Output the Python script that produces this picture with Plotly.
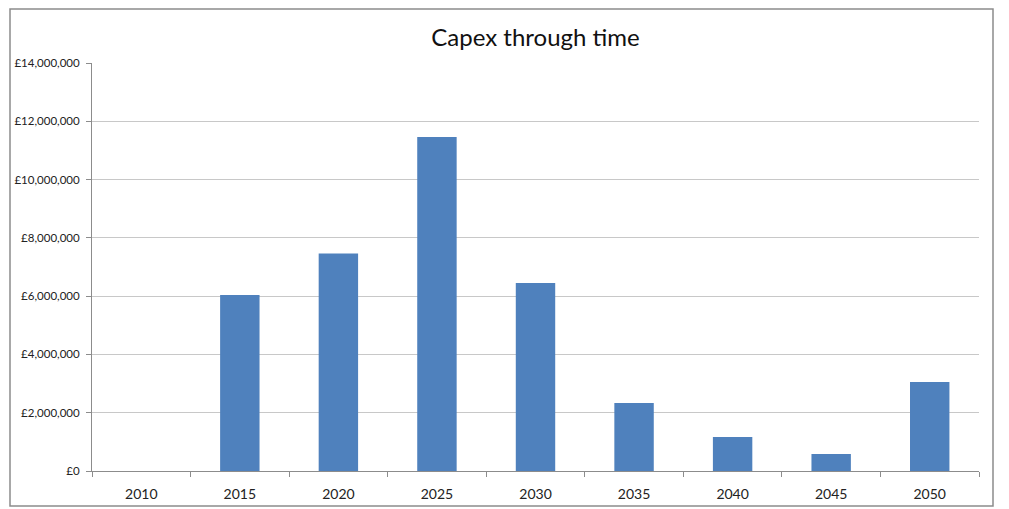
import plotly.graph_objects as go

years = ["2010", "2015", "2020", "2025", "2030", "2035", "2040", "2045", "2050"]
capex = [0, 6040000, 7460000, 11460000, 6450000, 2330000, 1170000, 580000, 3050000]
ytick_vals = [0, 2000000, 4000000, 6000000, 8000000, 10000000, 12000000, 14000000]
ytick_text = ["£0", "£2,000,000", "£4,000,000", "£6,000,000", "£8,000,000",
              "£10,000,000", "£12,000,000", "£14,000,000"]

fig = go.Figure(go.Bar(x=years, y=capex, marker=dict(color="#4F81BD", line=dict(width=0)),
                       width=0.4))

# page body offset of 8px is accounted for
OFF = 8
W, H = 1001, 501
L, R, T, B = 92 - OFF, 30, 63 - OFF, 38
pw, ph = W - L - R, H - T - B

fig.update_layout(
    width=W, height=H,
    margin=dict(l=L, r=R, t=T, b=B, autoexpand=False),
    plot_bgcolor="white", paper_bgcolor="white",
    font=dict(family="Lato, Open Sans, sans-serif", color="#222222", size=12),
    title=dict(text="Capex through time", xref="paper", x=0.5, xanchor="center",
               y=1 - (38 - OFF) / H, yanchor="middle",
               font=dict(size=24, color="#111111", family="Lato, Open Sans, sans-serif")),
    showlegend=False,
    xaxis=dict(type="category", showline=True, linecolor="#8c8c8c", linewidth=1,
               ticks="outside", ticklen=5, tickcolor="#8c8c8c", tickson="boundaries",
               showgrid=False, tickfont=dict(size=14), ticklabelstandoff=10,
               automargin=False),
    yaxis=dict(range=[0, 14000000], tickvals=ytick_vals, ticktext=ytick_text,
               showline=True, linecolor="#8c8c8c", linewidth=1,
               ticks="outside", ticklen=5, tickcolor="#8c8c8c",
               showgrid=True, gridcolor="#c8c8c8", gridwidth=1, zeroline=False,
               tickfont=dict(size=11.5), ticklabelstandoff=4, automargin=False),
    shapes=[dict(type="rect", xref="paper", yref="paper",
                 x0=(10 - 92) / pw, x1=(993 - 92) / pw,
                 y0=(471 - 506) / ph, y1=(471 - 9) / ph,
                 line=dict(color="#8c8c8c", width=1.5), fillcolor="rgba(0,0,0,0)",
                 layer="below")],
)

fig.write_html("out.html")
